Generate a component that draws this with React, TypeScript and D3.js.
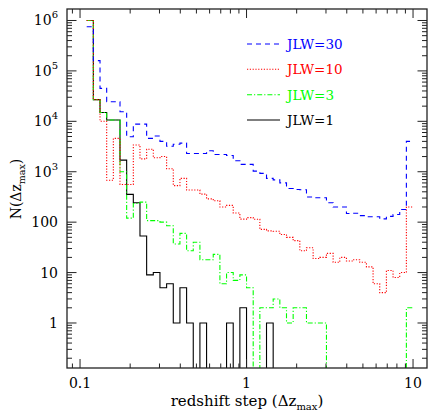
import React from "react";
import * as d3 from "d3";

// Histogram bins: log10 edges start at -0.96, width 0.04 dex (49 bins up to 10)
const binLogStart = -0.96;
const binLogWidth = 0.04;

const jlw30 = [
  750000, 160000, 45000, 24500, 24500, 15500, 4950, 8800, 8800, 4600,
  5100, 4000, 3200, 3500, 3700, 2300, 2300, 2300, 2600, 2200,
  2200, 2100, 1650, 1400, 1400, 1030, 930, 740, 690, 600,
  465, 445, 440, 316, 305, 305, 243, 200, 200, 148,
  150, 135, 128, 128, 116, 130, 142, 178, 4000,
];
const jlw10 = [
  1000000, 27000, 10000, 680, 4600, 560, 560, 3400, 1800, 2800,
  1900, 2000, 1150, 530, 740, 433, 433, 360, 290, 265,
  200, 215, 152, 115, 123, 114, 72, 67, 66, 57,
  50, 43, 27, 31, 19, 20, 24, 16, 20, 17,
  18, 16, 13, 6, 4, 11, 8, 10, 200,
];
const jlw3 = [
  1000000, 27000, 15000, 10600, 10600, 1000, 120, 235, 250, 107,
  107, 100, 85, 37, 60, 27, 40, 18, 18, 23,
  6, 10, 7, 9, 5, 0, 2, 2, 3, 2,
  1, 2, 2, 1, 1, 1, 0, 0, 0, 0,
  0, 0, 0, 0, 0, 0, 0, 0, 2,
];
const jlw1 = [
  1000000, 27000, 15000, 10600, 10600, 1700, 356, 243, 53, 9,
  10, 5, 6, 1, 5, 1, 0, 1, 0, 0,
  0, 1, 0, 2, 0, 0, 0, 1, 0, 0,
  0, 0, 0, 0, 0, 0, 0, 0, 0, 0,
  0, 0, 0, 0, 0, 0, 0, 0, 0,
];

const xTickValues = [0.1, 1, 10];
const xTickLabels = ["0.1", "1", "10"];
const yTickValues = [1, 10, 100, 1000, 10000, 100000, 1000000];
const yTickBases = ["1", "10", "100", "10", "10", "10", "10"];
const yTickExps = ["", "", "", "3", "4", "5", "6"];
const legendLabels = ["JLW=30", "JLW=10", "JLW=3", "JLW=1"];
const legendColors = ["#0000ff", "#ff0000", "#00ff00", "#000000"];
const legendDashes = ["5,4", "1.2,1.6", "5,2,1.2,2", ""];

const FONT = "DejaVu Serif";

export default function App() {
  const W = 436;
  const H = 419;
  const left = 67, right = 427, top = 9, bottom = 368;
  const x = d3.scaleLog().domain([0.0835, 12.13]).range([left, right]);
  const y = d3.scaleLog().domain([0.128, 1.69e6]).range([bottom, top]);

  const nb = jlw1.length;
  const edges = d3.range(nb + 1).map((i) => Math.pow(10, binLogStart + binLogWidth * i));
  const yv = (v: number) => (v > 0 ? y(v) : bottom + 20);
  const line = d3
    .line<[number, number]>()
    .x((d) => d[0])
    .y((d) => d[1])
    .curve(d3.curveStepAfter);
  const pathFor = (vals: number[]) => {
    const pts: [number, number][] = vals.map((v, i) => [x(edges[i]), yv(v)]);
    pts.push([x(edges[vals.length]), yv(vals[vals.length - 1])]);
    return line(pts) || "";
  };

  const series = [
    { vals: jlw1, idx: 3 },
    { vals: jlw3, idx: 2 },
    { vals: jlw10, idx: 1 },
    { vals: jlw30, idx: 0 },
  ];

  // ticks
  const [xd0, xd1] = x.domain();
  const xMinor: number[] = [];
  for (let e = -2; e <= 1; e++) {
    for (let k = 1; k <= 9; k++) {
      const v = k * Math.pow(10, e);
      if (v >= xd0 && v <= xd1) xMinor.push(v);
    }
  }
  const [yd0, yd1] = y.domain();
  const yMinor: number[] = [];
  for (let e = -1; e <= 6; e++) {
    for (let k = 1; k <= 9; k++) {
      const v = k * Math.pow(10, e);
      if (v >= yd0 && v <= yd1) yMinor.push(v);
    }
  }
  const isMajor = (v: number) => Math.abs(Math.log10(v) - Math.round(Math.log10(v))) < 1e-6;
  const axisColor = "#222";

  const legX0 = 247, legX1 = 280, legTx = 287;
  const legY = [44, 69.3, 94.7, 120];

  return (
    <svg
      width={W}
      height={H}
      style={{ position: "absolute", left: 0, top: 0, background: "#fff" }}
      fontFamily={FONT}
    >
      <defs>
        <clipPath id="plotClip">
          <rect x={left} y={top} width={right - left} height={bottom - top} />
        </clipPath>
      </defs>
      <rect x={0} y={0} width={W} height={H} fill="#fff" />

      <g clipPath="url(#plotClip)">
        {series.map((s) => (
          <path
            key={s.idx}
            d={pathFor(s.vals)}
            fill="none"
            stroke={legendColors[s.idx]}
            strokeWidth={1.1}
            strokeDasharray={legendDashes[s.idx] || undefined}
          />
        ))}
      </g>

      {/* frame */}
      <rect
        x={left}
        y={top}
        width={right - left}
        height={bottom - top}
        fill="none"
        stroke={axisColor}
        strokeWidth={1.3}
      />

      {/* x ticks */}
      {xMinor.map((v, i) => {
        const len = isMajor(v) ? 9 : 4.5;
        const px = x(v);
        return (
          <g key={"xt" + i} stroke={axisColor} strokeWidth={1}>
            <line x1={px} x2={px} y1={bottom} y2={bottom - len} />
            <line x1={px} x2={px} y1={top} y2={top + len} />
          </g>
        );
      })}
      {/* y ticks */}
      {yMinor.map((v, i) => {
        const len = isMajor(v) ? 9.5 : 5;
        const py = y(v);
        return (
          <g key={"yt" + i} stroke={axisColor} strokeWidth={1}>
            <line x1={left} x2={left + len} y1={py} y2={py} />
            <line x1={right} x2={right - len} y1={py} y2={py} />
          </g>
        );
      })}

      {/* x tick labels */}
      {xTickValues.map((v, i) => (
        <text key={"xl" + i} x={x(v)} y={388} textAnchor="middle" fontSize={14} fill="#000">
          {xTickLabels[i]}
        </text>
      ))}
      {/* y tick labels */}
      {yTickValues.map((v, i) => (
        <text key={"yl" + i} x={58} y={y(v) + 5} textAnchor="end" fontSize={14} fill="#000">
          {yTickBases[i]}
          {yTickExps[i] ? (
            <tspan dy={-7} fontSize={10}>
              {yTickExps[i]}
            </tspan>
          ) : null}
        </text>
      ))}

      {/* axis titles */}
      <text x={247} y={406} textAnchor="middle" fontSize={15} fill="#000">
        redshift step (Δz
        <tspan dy={4} fontSize={10}>max</tspan>
        <tspan dy={-4}>)</tspan>
      </text>
      <text
        transform={`translate(21,189) rotate(-90)`}
        textAnchor="middle"
        fontSize={14}
        fill="#000"
      >
        N(Δz
        <tspan dy={4} fontSize={9.5}>max</tspan>
        <tspan dy={-4}>)</tspan>
      </text>

      {/* legend */}
      {legendLabels.map((lab, i) => (
        <g key={"lg" + i}>
          <line
            x1={legX0}
            x2={legX1}
            y1={legY[i]}
            y2={legY[i]}
            stroke={legendColors[i]}
            strokeWidth={1.1}
            strokeDasharray={legendDashes[i] || undefined}
          />
          <text x={legTx} y={legY[i] + 5} fontSize={13.5} fill={legendColors[i]}>
            {lab}
          </text>
        </g>
      ))}
    </svg>
  );
}
